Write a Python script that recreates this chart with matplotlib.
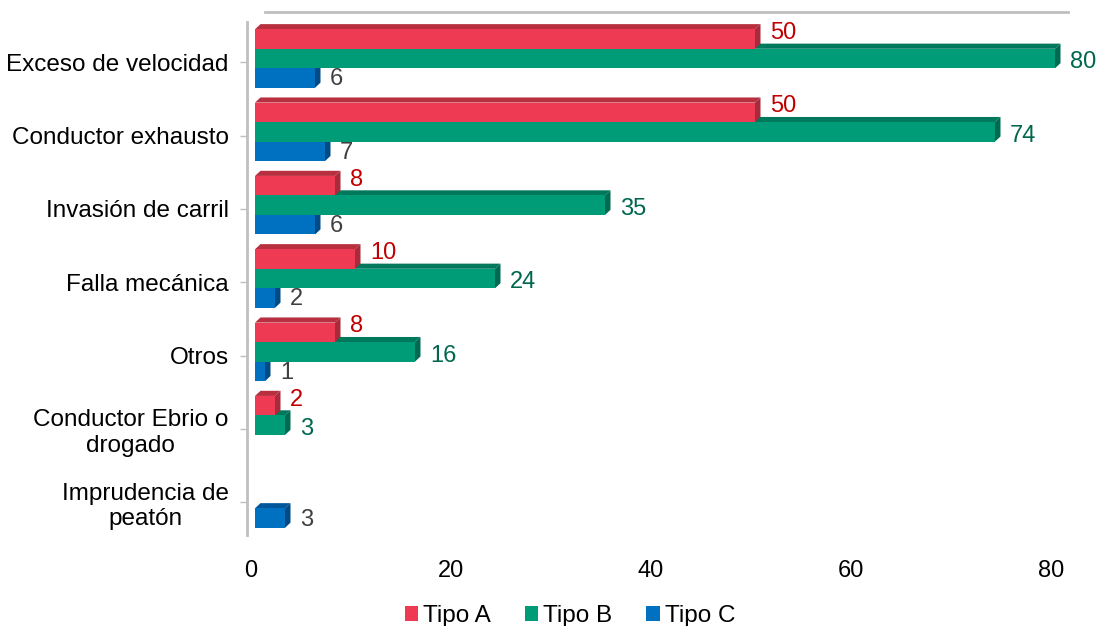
import matplotlib
matplotlib.use("Agg")
import matplotlib.pyplot as plt
from matplotlib.patches import Polygon, Patch
from matplotlib.lines import Line2D
from matplotlib.transforms import ScaledTranslation

categories = ["Exceso de velocidad", "Conductor exhausto", "Invasión de carril",
              "Falla mecánica", "Otros", "Conductor Ebrio o\ndrogado",
              "Imprudencia de\npeatón"]
tipo_a = [50, 50, 8, 10, 8, 2, 0]
tipo_b = [80, 74, 35, 24, 16, 3, 0]
tipo_c = [6, 7, 6, 2, 1, 0, 3]
series_names = ["Tipo A", "Tipo B", "Tipo C"]
xticks = [0, 20, 40, 60, 80]

front = ["#EE3A52", "#009B77", "#0070C0"]
side = ["#A82A3B", "#006B52", "#004B86"]
topc = ["#B8303F", "#00785C", "#00569A"]
label_col = ["#C00000", "#00664E", "#404040"]
label_dy = [-0.08, 0.05, 0.02]

plt.rcParams['font.family'] = ['Liberation Sans', 'DejaVu Sans']
W, H = 1100, 626
fig = plt.figure(figsize=(W / 100, H / 100), dpi=100)
ax_left, ax_right = 255, 1068
ax_top, ax_bot = 21.85, 535.2
ax = fig.add_axes([ax_left / W, 1 - ax_bot / H, (ax_right - ax_left) / W, (ax_bot - ax_top) / H])
ax.set_xlim(0, 81.3)
ax.set_ylim(6.5, -0.5)

h = 0.266
dx, dy = 0.55, 0.07
data = [tipo_a, tipo_b, tipo_c]
offsets = [-h, 0, h]
for i in range(len(categories)):
    for s in [2, 1, 0]:
        v = data[s][i]
        if v == 0:
            continue
        yc = i + offsets[s]
        top = yc - h / 2
        bot = yc + h / 2
        ax.barh(yc, v, height=h, color=front[s], edgecolor='none', zorder=3 + (2 - s))
        ax.add_patch(Polygon([(v, top), (v, bot), (v + dx, bot - dy), (v + dx, top - dy)],
                             closed=True, facecolor=side[s], edgecolor='none', zorder=3 + (2 - s)))
        ax.add_patch(Polygon([(0, top), (v, top), (v + dx, top - dy), (dx, top - dy)],
                             closed=True, facecolor=topc[s], edgecolor='none', zorder=2.9 + (2 - s)))
        ax.text(v + 1.5, yc + label_dy[s], str(v), color=label_col[s], fontsize=17,
                ha='left', va='center', zorder=10)

for sp in ['top', 'right', 'bottom']:
    ax.spines[sp].set_visible(False)
ax.spines['left'].set_position(('outward', 6))
ax.spines['left'].set_color('#BFBFBF')
ax.spines['left'].set_linewidth(2)

ax.set_yticks([i + 0.05 for i in range(len(categories))])
ax.set_yticklabels(categories, fontsize=17.5)
for lab in ax.get_yticklabels():
    lab.set_multialignment('center')
ax.tick_params(axis='y', length=5, width=1, color='#BFBFBF', pad=8)

ax.set_xticks(xticks)
ax.set_xticklabels([str(t) for t in xticks], fontsize=17)
ax.tick_params(axis='x', length=0, pad=18)
for lab in ax.get_xticklabels():
    lab.set_transform(lab.get_transform() + ScaledTranslation(-4 / 100, 0, fig.dpi_scale_trans))

fig.add_artist(Line2D([265 / W, 1068 / W], [1 - 12 / H, 1 - 12 / H], color='#BFBFBF', linewidth=2))

handles = [Patch(facecolor=front[k], edgecolor='none', label=series_names[k]) for k in range(3)]
fig.legend(handles=handles, loc='center', bbox_to_anchor=(570 / W, 1 - 616 / H), ncol=3,
           frameon=False, fontsize=17.5, handlelength=0.55, handleheight=0.55,
           handletextpad=0.2, columnspacing=1.4, borderpad=0)

fig.savefig("out.png", dpi=100)
